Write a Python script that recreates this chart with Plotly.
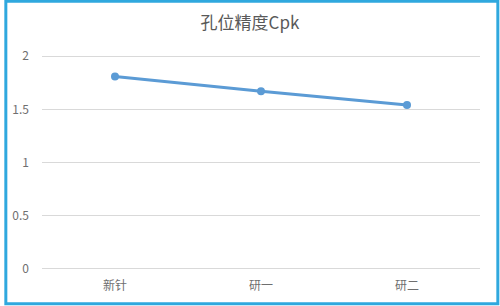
import plotly.graph_objects as go

categories = ["新针", "研一", "研二"]
cpk_values = [1.81, 1.67, 1.54]
y_ticks = [0, 0.5, 1, 1.5, 2]
y_tick_labels = ["0", "0.5", "1", "1.5", "2"]

W, H = 500, 306
pad = 0.03
unit = 106.5
ml, mr = 38, 20
mt = 56 - pad * unit
mb = 37 - pad * unit
pw, ph = W - ml - mr, H - mt - mb

fig = go.Figure()
fig.add_trace(go.Scatter(
    x=categories, y=cpk_values, mode="lines+markers",
    line=dict(color="#5b9bd5", width=3),
    marker=dict(color="#5b9bd5", size=8),
    showlegend=False,
))

font = "Noto Sans CJK SC, Noto Sans, sans-serif"
fig.update_layout(
    width=W, height=H,
    margin=dict(l=ml, r=mr, t=mt, b=mb),
    paper_bgcolor="white", plot_bgcolor="white",
    title=dict(text="孔位精度Cpk", x=0.5, xanchor="center", y=1 - 23 / H, yanchor="middle",
               font=dict(family=font, size=17, color="#595959")),
    xaxis=dict(range=[-0.5, 2.5], showgrid=False, showline=False, zeroline=False, ticks="",
               ticklabelstandoff=5,
               tickfont=dict(family=font, size=12, color="#6f6f6f")),
    yaxis=dict(range=[-pad, 2 + pad], tickvals=y_ticks, ticktext=y_tick_labels,
               showgrid=True, gridcolor="#d9d9d9", gridwidth=1,
               zeroline=False, showline=False, ticks="", ticklabelstandoff=12,
               tickfont=dict(family=font, size=12, color="#6f6f6f")),
)

# blue frame around the whole image
fig.add_shape(type="rect", xref="paper", yref="paper",
              x0=(1.5 - ml) / pw, x1=(W - 2 - ml) / pw,
              y0=-(mb - 2) / ph, y1=1 + (mt - 1) / ph,
              line=dict(color="#2fa8de", width=3), fillcolor="rgba(0,0,0,0)")

fig.write_html("out.html")
